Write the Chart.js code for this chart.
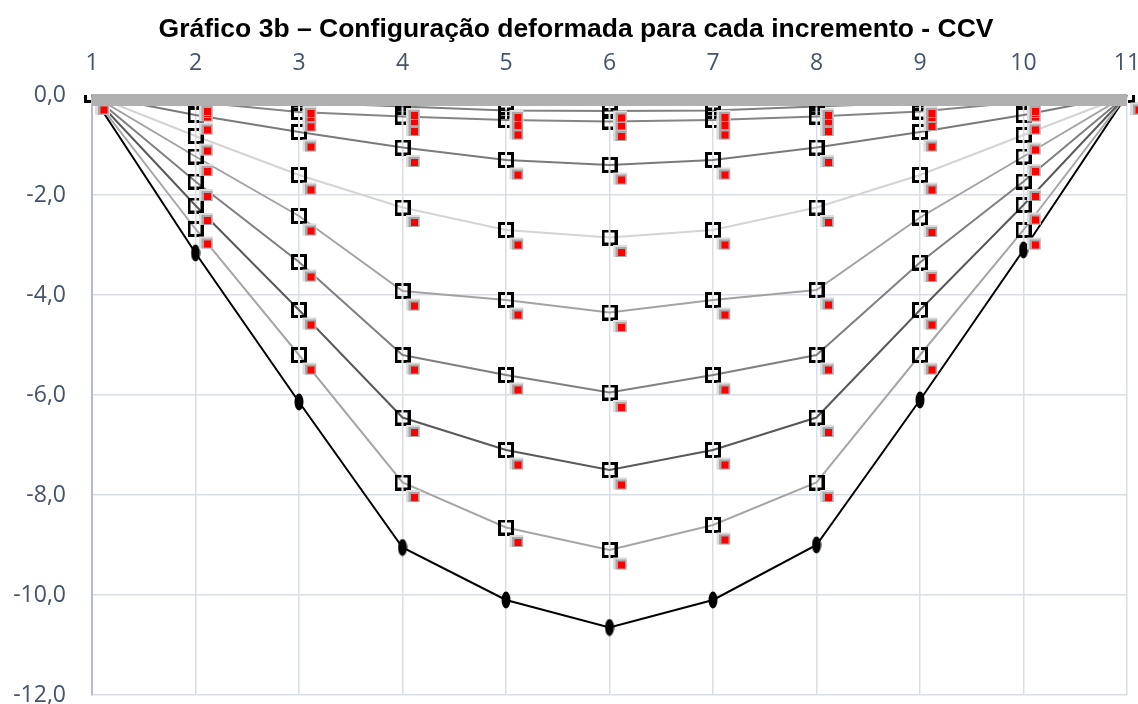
<!DOCTYPE html>
<html>
<head>
<meta charset="utf-8">
<script src="https://cdn.jsdelivr.net/npm/chart.js@4.4.1/dist/chart.umd.min.js"></script>
<style>
html,body{margin:0;padding:0;background:#fff;}
#wrap{width:1138px;height:704px;position:relative;}
</style>
</head>
<body>
<div id="wrap"><canvas id="c" width="1138" height="704"></canvas></div>
<script>
const titleText = 'Gráfico 3b – Configuração deformada para cada incremento - CCV';
const categories = ['1','2','3','4','5','6','7','8','9','10','11'];
const yTicks = [0,-2,-4,-6,-8,-10,-12];

const inc0  = [0,0,0,0,0,0,0,0,0,0,0];
const inc1  = [0,-0.03,-0.07,-0.11,-0.15,-0.16,-0.15,-0.11,-0.07,-0.03,0];
const inc2  = [0,-0.07,-0.15,-0.23,-0.31,-0.32,-0.31,-0.23,-0.15,-0.07,0];
const inc3  = [0,-0.14,-0.34,-0.43,-0.50,-0.53,-0.50,-0.43,-0.33,-0.14,0];
const inc4  = [0,-0.40,-0.74,-1.05,-1.30,-1.40,-1.30,-1.05,-0.74,-0.40,0];
const inc5  = [0,-0.82,-1.60,-2.25,-2.70,-2.85,-2.70,-2.25,-1.60,-0.80,0];
const inc6  = [0,-1.23,-2.42,-3.92,-4.10,-4.35,-4.10,-3.90,-2.45,-1.23,0];
const inc7  = [0,-1.73,-3.34,-5.20,-5.60,-5.95,-5.60,-5.20,-3.35,-1.73,0];
const inc8  = [0,-2.21,-4.30,-6.45,-7.10,-7.50,-7.10,-6.45,-4.30,-2.20,0];
const inc9  = [0,-2.68,-5.20,-7.75,-8.65,-9.10,-8.60,-7.75,-5.20,-2.70,0];
const inc10 = [0,-3.16,-6.14,-9.05,-10.10,-10.65,-10.10,-9.00,-6.10,-3.10,0];

// marker images
function makeBox(){
  const c=document.createElement('canvas'); c.width=16; c.height=16;
  const g=c.getContext('2d'); g.strokeStyle='#000'; g.lineWidth=3;
  g.beginPath();
  g.moveTo(7,1.5); g.lineTo(1.5,1.5); g.lineTo(1.5,14.5); g.lineTo(7,14.5);
  g.moveTo(9,1.5); g.lineTo(14.5,1.5); g.lineTo(14.5,14.5); g.lineTo(9,14.5);
  g.stroke(); return c;
}
function makeEllipse(){
  const c=document.createElement('canvas'); c.width=10; c.height=18;
  const g=c.getContext('2d'); g.fillStyle='#000';
  g.beginPath(); g.ellipse(5,9,4.5,8.5,0,0,Math.PI*2); g.fill(); return c;
}
const boxImg = makeBox();
const ellImg = makeEllipse();

function lineDs(data, color, opts){
  return Object.assign({
    data: data, borderColor: color, backgroundColor: color, borderWidth: 2,
    tension: 0, pointStyle: boxImg, pointRadius: 7, redMark: true
  }, opts||{});
}

const datasets = [
  lineDs(inc0, '#b0b0b0', {borderWidth: 12, pointRadius: 0, redMark: false, band: true, clip: false}),
  lineDs(inc1, '#9a9a9a'),
  lineDs(inc2, '#7f7f7f'),
  lineDs(inc3, '#858585'),
  lineDs(inc4, '#7a7a7a'),
  lineDs(inc5, '#d4d4d4'),
  lineDs(inc6, '#a3a3a3'),
  lineDs(inc7, '#7f7f7f'),
  lineDs(inc8, '#595959'),
  lineDs(inc9, '#a6a6a6'),
  lineDs(inc10, '#000000', {pointStyle: ellImg, redMark: false,
     pointRadius: (ctx) => (ctx.dataIndex===0 || ctx.dataIndex===categories.length-1) ? 0 : 7})
];

const decor = {
  id: 'decor',
  beforeDatasetDraw(chart, args){
    if (chart.data.datasets[args.index].band){ chart.ctx.save(); chart.ctx.translate(0,5); }
  },
  afterDatasetDraw(chart, args){
    const ds = chart.data.datasets[args.index];
    const ctx = chart.ctx;
    if (ds.band){ ctx.restore(); return; }
    if (!ds.redMark) return;
    ctx.save();
    args.meta.data.forEach(p => {
      const x = p.x, y = p.y;
      ctx.fillStyle = '#dcdcdc'; ctx.fillRect(x+3.5, y+7.5, 14, 12);
      ctx.fillStyle = '#a8a8a8'; ctx.fillRect(x+6, y+9.5, 11, 10);
      ctx.fillStyle = '#ff0000'; ctx.fillRect(x+8.5, y+11.5, 7, 7);
    });
    ctx.restore();
  },
  afterDraw(chart){
    const ctx = chart.ctx;
    ctx.save();
    ctx.font = 'bold 26.5px "Liberation Sans", Arial, sans-serif';
    ctx.fillStyle = '#000';
    ctx.textAlign = 'center'; ctx.textBaseline = 'alphabetic';
    ctx.fillText(titleText, 576, 37);
    ctx.restore();
  }
};

const tickFont = {family: '"Open Sans", "Liberation Sans", sans-serif', size: 23};
const tickColor = '#44546a';

new Chart(document.getElementById('c'), {
  type: 'line',
  data: { labels: categories, datasets: datasets },
  plugins: [decor],
  options: {
    responsive: false, animation: false, events: [],
    layout: { padding: {top: 40, right: 11, bottom: 9, left: 0} },
    plugins: { legend: {display: false}, tooltip: {enabled: false}, title: {display: false} },
    scales: {
      x: {
        type: 'category', position: 'top', offset: false,
        grid: { color: '#d9dde4', lineWidth: 1.5, drawTicks: false },
        border: { display: false },
        ticks: { color: tickColor, font: tickFont, padding: 18, maxRotation: 0, autoSkip: false },
        afterFit(s){ s.height = 55; s.paddingLeft = 0; s.paddingRight = 0; }
      },
      y: {
        type: 'linear', position: 'left', min: -12, max: 0,
        afterBuildTicks(s){ s.ticks = yTicks.map(v => ({value: v})); },
        grid: { color: '#d9dde4', lineWidth: 1.5, drawTicks: false },
        border: { display: true, color: '#b4bccb', width: 2 },
        ticks: { color: tickColor, font: tickFont, padding: 26,
                 callback: v => v.toFixed(1).replace('.', ',') },
        afterFit(s){ s.width = 92; s.paddingTop = 0; s.paddingBottom = 0; }
      }
    }
  }
});
</script>
</body>
</html>
